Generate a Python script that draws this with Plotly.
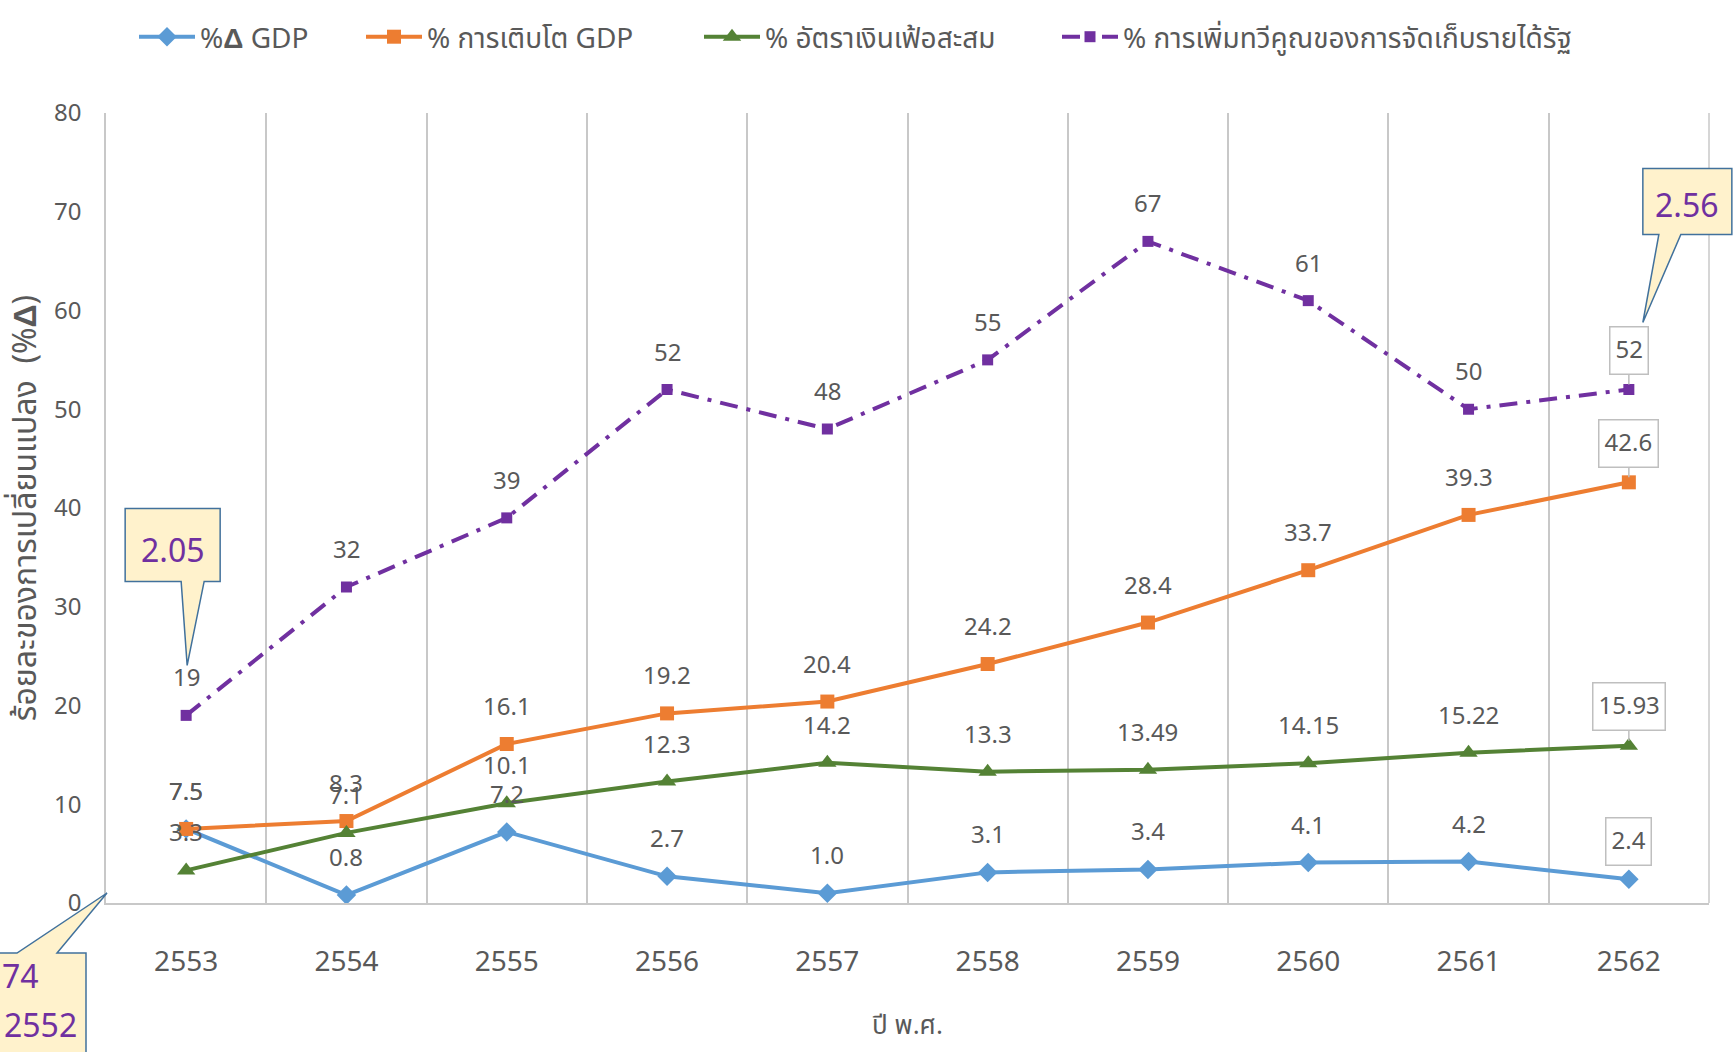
import plotly.graph_objects as go

# ---------------- data ----------------
years = ["2553", "2554", "2555", "2556", "2557", "2558", "2559", "2560", "2561", "2562"]
gdp_change = [7.5, 0.8, 7.2, 2.7, 1.0, 3.1, 3.4, 4.1, 4.2, 2.4]
gdp_growth = [7.5, 8.3, 16.1, 19.2, 20.4, 24.2, 28.4, 33.7, 39.3, 42.6]
inflation_cum = [3.3, 7.1, 10.1, 12.3, 14.2, 13.3, 13.49, 14.15, 15.22, 15.93]
revenue_mult = [19, 32, 39, 52, 48, 55, 67, 61, 50, 52]

series_names = ["%<b>Δ</b> GDP", "% การเติบโต GDP", "% อัตราเงินเฟ้อสะสม",
                "% การเพิ่มทวีคูณของการจัดเก็บรายได้รัฐ"]
callout_first = "2.05"
callout_last = "2.56"
callout_base_value = "74"
callout_base_year = "2552"
y_ticks = [0, 10, 20, 30, 40, 50, 60, 70, 80]

# ---------------- styling ----------------
FONT = "Leelawadee UI, Tahoma, Noto Sans Thai, Liberation Sans, sans-serif"
GRAY = "#595959"
GRID = "#c8c8c8"
C_BLUE, C_ORANGE, C_GREEN, C_PURPLE = "#5b9bd5", "#ed7d31", "#548235", "#7030a0"
CALLOUT_FILL, CALLOUT_LINE = "#fff2cc", "#41719c"

W, H = 1736, 1052
ML, MR, MT, MB = 106, 27, 113, 149
PW, PH = W - ML - MR, H - MT - MB

fig = go.Figure()

specs = [
    (gdp_change, C_BLUE, "diamond", 15, "solid", "legend"),
    (gdp_growth, C_ORANGE, "square", 14, "solid", "legend2"),
    (inflation_cum, C_GREEN, "triangle-up", 16, "solid", "legend3"),
    (revenue_mult, C_PURPLE, "square", 11, "18px,9px,4px,9px", "legend4"),
]
for (vals, col, sym, size, dash, leg), name in zip(specs, series_names):
    fig.add_trace(go.Scatter(
        x=years, y=vals, name=name, mode="lines+markers",
        line=dict(color=col, width=4, dash=dash),
        marker=dict(color=col, symbol=sym, size=size, line=dict(width=0)),
        legend=leg, hoverinfo="x+y",
    ))

# data labels (x given as category index)
label_font = dict(family=FONT, size=24, color=GRAY)
for vals in [gdp_change, gdp_growth, inflation_cum, revenue_mult]:
    for i, v in enumerate(vals[:-1]):
        fig.add_annotation(x=i, y=v, text=str(v), showarrow=False,
                           xanchor="center", yanchor="middle",
                           yshift=36, font=label_font)
    # boxed label on the last point
    is_blue = vals is gdp_change
    last = len(vals) - 1
    if is_blue:
        fig.add_annotation(x=last, y=vals[-1], text=str(vals[-1]), font=label_font,
                           bgcolor="white", bordercolor="#bfbfbf", borderwidth=1.5,
                           borderpad=5, showarrow=False, xanchor="center",
                           yanchor="middle", yshift=38)
    else:
        fig.add_annotation(x=last, y=vals[-1], text=str(vals[-1]), font=label_font,
                           bgcolor="white", bordercolor="#bfbfbf", borderwidth=1.5,
                           borderpad=5, showarrow=True, arrowhead=0, arrowwidth=1.5,
                           arrowcolor="#bfbfbf", ax=0, ay=-39, standoff=5)

# right plot-area border (Excel chart frame)
fig.add_shape(type="line", xref="paper", yref="paper", x0=1, x1=1, y0=0, y1=1,
              line=dict(color=GRID, width=1.5), layer="below")

# yellow callouts (shape anchored at data-derived paper positions, sized in pixels)
n = len(years)
def px(i):
    return (i + 0.5) / n
def py(v):
    return v / y_ticks[-1]

callout_font = dict(family=FONT, size=32, color=C_PURPLE)

# first point callout
fig.add_shape(type="path", xref="paper", yref="paper", xsizemode="pixel", ysizemode="pixel",
              xanchor=px(0), yanchor=py(revenue_mult[0]),
              path="M -61,207 L 34,207 L 34,134 L 18,134 L 1,50 L -5,134 L -61,134 Z",
              fillcolor=CALLOUT_FILL, line=dict(color=CALLOUT_LINE, width=1.5))
fig.add_annotation(xref="paper", yref="paper", x=px(0), y=py(revenue_mult[0]),
                   text=callout_first, showarrow=False, xanchor="center", yanchor="middle",
                   xshift=-13, yshift=163, font=callout_font)
# last point callout
fig.add_shape(type="path", xref="paper", yref="paper", xsizemode="pixel", ysizemode="pixel",
              xanchor=px(n - 1), yanchor=py(revenue_mult[-1]),
              path="M 14,221 L 103,221 L 103,155 L 52,155 L 14,67 L 30,155 L 14,155 Z",
              fillcolor=CALLOUT_FILL, line=dict(color=CALLOUT_LINE, width=1.5))
fig.add_annotation(xref="paper", yref="paper", x=px(n - 1), y=py(revenue_mult[-1]),
                   text=callout_last, showarrow=False, xanchor="center", yanchor="middle",
                   xshift=58, yshift=183, font=callout_font)
# base-year callout at origin
fig.add_shape(type="path", xref="paper", yref="paper", xsizemode="pixel", ysizemode="pixel",
              xanchor=0, yanchor=0,
              path="M -200,-50 L -89,-50 L 1,10 L -49,-50 L -20,-50 L -20,-260 L -200,-260 Z",
              fillcolor=CALLOUT_FILL, line=dict(color=CALLOUT_LINE, width=1.5))
fig.add_annotation(xref="paper", yref="paper", x=0, y=0, text=callout_base_value,
                   showarrow=False, xanchor="left", yanchor="middle",
                   xshift=-106, yshift=-75, font=callout_font)
fig.add_annotation(xref="paper", yref="paper", x=0, y=0, text=callout_base_year,
                   showarrow=False, xanchor="center", yanchor="middle",
                   xshift=-66, yshift=-124, font=callout_font)

# legends (one per series so each sits where the reference has it)
leg_x = [144, 371, 709, 1067]
leg_common = dict(orientation="h", yanchor="middle", xanchor="left", y=(H - MB - 37) / PH,
                  font=dict(family=FONT, size=28, color=GRAY), bgcolor="rgba(0,0,0,0)",
                  itemwidth=56, tracegroupgap=0)
for k, lx in enumerate(leg_x):
    key = "legend" if k == 0 else f"legend{k + 1}"
    fig.update_layout({key: dict(leg_common, x=(lx - 10 - ML) / PW)})

fig.update_layout(
    width=W, height=H,
    margin=dict(l=ML, r=MR, t=MT, b=MB, pad=0),
    paper_bgcolor="white", plot_bgcolor="white",
    font=dict(family=FONT, color=GRAY),
    showlegend=True,
    xaxis=dict(
        type="category", range=[-0.5, n - 0.5], tickson="boundaries",
        showgrid=True, gridcolor=GRID, gridwidth=1.5,
        showline=True, linecolor=GRID, linewidth=1.5,
        ticks="", tickfont=dict(family=FONT, size=28, color=GRAY),
        ticklabelstandoff=33,
        title=dict(text="ปี พ.ศ.", font=dict(family=FONT, size=26, color=GRAY), standoff=32),
        zeroline=False,
    ),
    yaxis=dict(
        range=[0, y_ticks[-1]], tickvals=y_ticks, showgrid=False,
        showline=True, linecolor=GRID, linewidth=1.5, zeroline=False,
        ticks="", tickfont=dict(family=FONT, size=24, color=GRAY),
        ticklabelstandoff=18,
        title=dict(text="ร้อยละของการเปลี่ยนแปลง  (%<b>Δ</b>)",
                   font=dict(family=FONT, size=32, color=GRAY), standoff=8),
    ),
)

fig.write_html("out.html", config={"displayModeBar": False},
               post_script="document.body.style.margin='0';document.body.style.overflow='hidden';")
